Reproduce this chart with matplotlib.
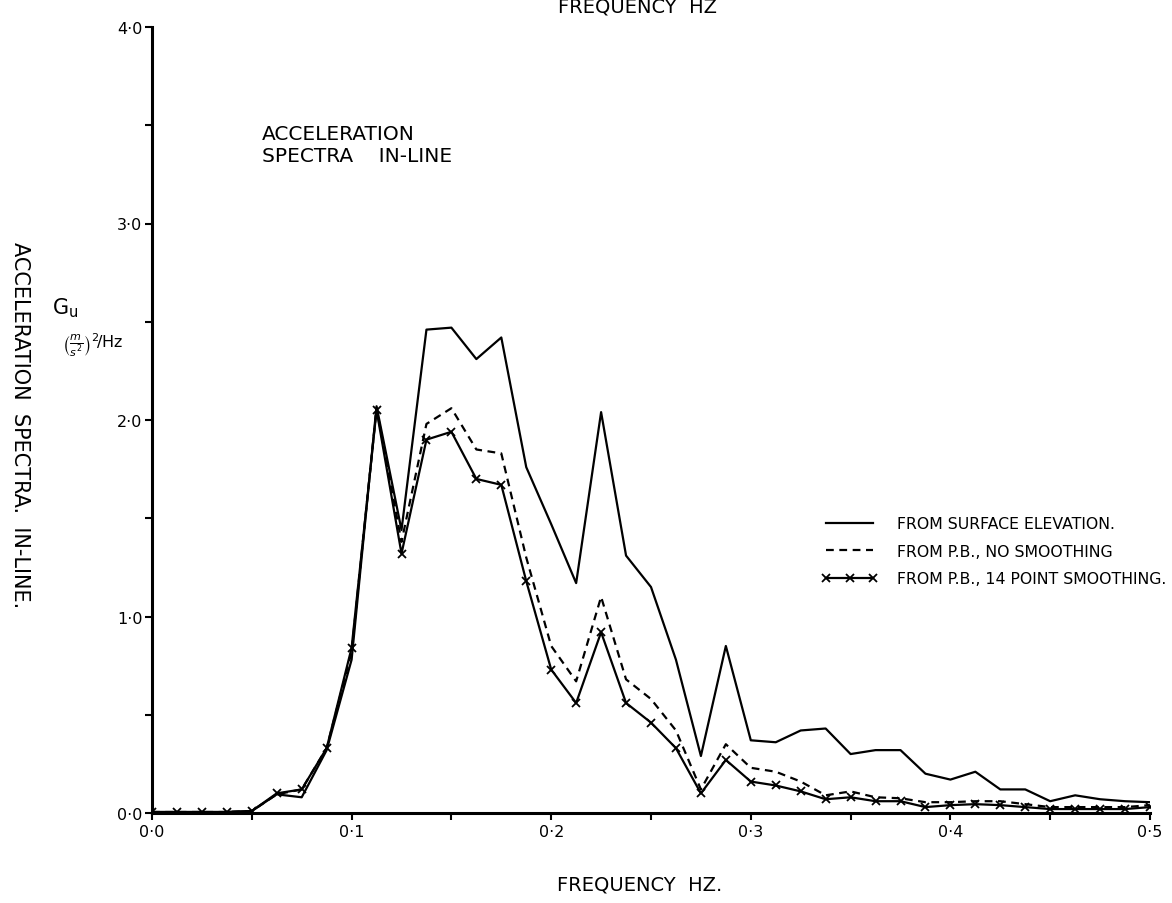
import numpy as np
import matplotlib
matplotlib.use("Agg")
import matplotlib.pyplot as plt
from matplotlib.ticker import MultipleLocator, FuncFormatter

# ---- data ----
freq = [0.0, 0.0125, 0.025, 0.0375, 0.05, 0.0625, 0.075, 0.0875, 0.1, 0.1125,
        0.125, 0.1375, 0.15, 0.1625, 0.175, 0.1875, 0.2, 0.2125, 0.225, 0.2375,
        0.25, 0.2625, 0.275, 0.2875, 0.3, 0.3125, 0.325, 0.3375, 0.35, 0.3625,
        0.375, 0.3875, 0.4, 0.4125, 0.425, 0.4375, 0.45, 0.4625, 0.475, 0.4875, 0.5]

surface = [0.005, 0.005, 0.005, 0.005, 0.01, 0.095, 0.08, 0.32, 0.78, 2.07,
           1.44, 2.46, 2.47, 2.31, 2.42, 1.76, 1.47, 1.17, 2.04, 1.31,
           1.15, 0.78, 0.29, 0.85, 0.37, 0.36, 0.42, 0.43, 0.30, 0.32,
           0.32, 0.20, 0.17, 0.21, 0.12, 0.12, 0.06, 0.09, 0.07, 0.06, 0.055]

no_smooth = [0.005, 0.005, 0.005, 0.005, 0.01, 0.095, 0.12, 0.33, 0.82, 2.06,
             1.38, 1.98, 2.06, 1.85, 1.83, 1.30, 0.85, 0.67, 1.10, 0.68,
             0.58, 0.42, 0.12, 0.35, 0.23, 0.21, 0.16, 0.09, 0.11, 0.08,
             0.075, 0.055, 0.055, 0.06, 0.06, 0.045, 0.03, 0.03, 0.03, 0.03, 0.04]

smooth14 = [0.005, 0.005, 0.005, 0.005, 0.01, 0.10, 0.12, 0.33, 0.84, 2.05,
            1.32, 1.90, 1.94, 1.70, 1.67, 1.18, 0.73, 0.56, 0.92, 0.56,
            0.46, 0.33, 0.10, 0.27, 0.16, 0.14, 0.11, 0.07, 0.08, 0.06,
            0.06, 0.03, 0.04, 0.045, 0.04, 0.03, 0.02, 0.02, 0.02, 0.02, 0.03]

labels = ["FROM SURFACE ELEVATION.", "FROM P.B., NO SMOOTHING",
          "FROM P.B., 14 POINT SMOOTHING."]

plt.rcParams['font.family'] = ['DejaVu Sans']
plt.rcParams['mathtext.fontset'] = 'dejavusans'

W, H = 1172, 904
fig = plt.figure(figsize=(W / 100, H / 100), dpi=100)
L, R, B, T = 152, 1150, 814, 28
ax = fig.add_axes([L / W, 1 - B / H, (R - L) / W, (B - T) / H])

lw = 1.6
ax.plot(freq, surface, color='black', lw=lw, label=labels[0])
ax.plot(freq, no_smooth, color='black', lw=lw, ls=(0, (3.5, 2.5)), label=labels[1])
ax.plot(freq, smooth14, color='black', lw=lw, marker='x', ms=5.5, mew=1.3,
        label=labels[2])

ax.set_xlim(0, 0.5)
ax.set_ylim(0, 4.0)
for s in ['top', 'right']:
    ax.spines[s].set_visible(False)
for s in ['left', 'bottom']:
    ax.spines[s].set_linewidth(2.2)

fmt = FuncFormatter(lambda v, p: f"{v:.1f}".replace('.', '\u00b7'))
ax.xaxis.set_major_locator(MultipleLocator(0.1))
ax.xaxis.set_minor_locator(MultipleLocator(0.05))
ax.yaxis.set_major_locator(MultipleLocator(1.0))
ax.yaxis.set_minor_locator(MultipleLocator(0.5))
ax.xaxis.set_major_formatter(fmt)
ax.yaxis.set_major_formatter(fmt)
ax.tick_params(axis='both', which='both', direction='out', width=1.5,
               labelsize=11.5, color='black', length=5)
ax.tick_params(axis='x', which='both', pad=3)
ax.tick_params(axis='y', which='both', pad=2)

ax.set_xlabel("FREQUENCY  HZ.", fontsize=14)
ax.xaxis.set_label_coords((640 - L) / (R - L), -(876 - B) / (B - T))
ax.xaxis.label.set_va('top')

fig.text(20 / W, 1 - 425 / H, "ACCELERATION  SPECTRA.  IN-LINE.", rotation=270,
         ha='center', va='center', fontsize=15)
fig.text(638 / W, 1 - 7 / H, "FREQUENCY  HZ", ha='center', va='center', fontsize=14)

ax.text(0.11, 0.877, "ACCELERATION\nSPECTRA    IN-LINE", transform=ax.transAxes,
        ha='left', va='top', fontsize=14.5, linespacing=1.2)

fig.text(52 / W, 1 - 308 / H, r"$\mathrm{G}_{\mathrm{u}}$", ha='left', va='center',
         fontsize=15)
fig.text(62 / W, 1 - 345 / H, r"$\left(\frac{m}{s^{2}}\right)^{2}\!/\mathrm{Hz}$",
         ha='left', va='center', fontsize=11.5)

leg = ax.legend(loc='upper left', bbox_to_anchor=(815 / W, 1 - 511 / H),
                bbox_transform=fig.transFigure, frameon=False, fontsize=11.3,
                handlelength=3.6, handletextpad=1.2, labelspacing=0.8,
                borderaxespad=0, numpoints=3)

fig.savefig("out.png", dpi=100)
